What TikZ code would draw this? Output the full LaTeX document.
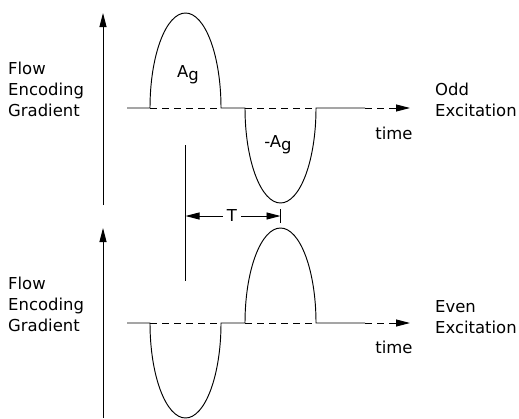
\documentclass[tikz,border=0pt]{standalone}
\usepackage{fontspec}
\setmainfont{DejaVu Sans}
\usetikzlibrary{arrows.meta, positioning, calc}

\newcommand{\Ag}{A\raisebox{-0.35ex}{g}}

\begin{document}
\begin{tikzpicture}[
    x=1bp, y=1bp,
    trace/.style={line width=0.95pt},
    zero/.style={line width=0.95pt, dash pattern=on 7bp off 5bp},
    arr/.style={-{Triangle[length=14bp, width=7bp]}, line width=0.95pt},
    lbl/.style={font=\fontsize{16.5}{21}\selectfont, align=left, inner sep=0pt, anchor=west},
    sym/.style={font=\fontsize{16.5}{19}\selectfont, inner sep=2pt},
]
\useasboundingbox (0,0) rectangle (519,418);

% Odd excitation
\coordinate (oa) at (127,310);
\coordinate (ob) at (150,310);
\coordinate (oc) at (221,310);
\coordinate (od) at (245,310);
\coordinate (oe) at (316,310);
\coordinate (of) at (365,310);
\coordinate (og) at (410,310);
\coordinate (oax0) at (103,213);
\coordinate (oax1) at (103,405);

\draw[arr] (oax0) -- (oax1);
\draw[trace] (oa) -- (ob) arc[start angle=180, end angle=0, x radius=35.5, y radius=95]
    -- (od) arc[start angle=180, end angle=360, x radius=35.5, y radius=95] -- (of);
\draw[zero] (ob) -- (oc) (od) -- (oe);
\draw[zero, arr] (of) -- (og);

\node[lbl] (oylbl) at (8,329) {Flow\\Encoding\\Gradient};
\node[sym] (pos) at (188,343) {\Ag};
\node[sym] (neg) at (278,273) {-\Ag};
\node[sym] (otime) at (394,285) {time};
\node[lbl] (odd) at (435,318) {Odd\\Excitation};

% Period T between lobe centres
\coordinate (mk0) at (185.5,273);
\coordinate (mk1) at (185.5,137);
\coordinate (tl) at (185.5,202);
\coordinate (tr) at (280.5,202);
\coordinate (tk0) at (280.5,195);
\coordinate (tk1) at (280.5,209);
\node[sym, inner sep=4pt] (per) at (232,202) {T};

\draw[trace] (mk0) -- (mk1);
\draw[trace] (tk0) -- (tk1);
\draw[arr] (per) -- (tl);
\draw[arr] (per) -- (tr);

% Even excitation
\coordinate (ea) at (127,95);
\coordinate (eb) at (150,95);
\coordinate (ec) at (221,95);
\coordinate (ed) at (245,95);
\coordinate (ee) at (316,95);
\coordinate (ef) at (365,95);
\coordinate (eg) at (410,95);
\coordinate (eax0) at (103,0);
\coordinate (eax1) at (103,190);

\draw[arr] (eax0) -- (eax1);
\draw[trace] (ea) -- (eb) arc[start angle=180, end angle=360, x radius=35.5, y radius=95]
    -- (ed) arc[start angle=180, end angle=0, x radius=35.5, y radius=95] -- (ef);
\draw[zero] (eb) -- (ec) (ed) -- (ee);
\draw[zero, arr] (ef) -- (eg);

\node[lbl] (eylbl) at (8,114) {Flow\\Encoding\\Gradient};
\node[sym] (etime) at (394,71) {time};
\node[lbl] (even) at (435,101) {Even\\Excitation};

\end{tikzpicture}
\end{document}
